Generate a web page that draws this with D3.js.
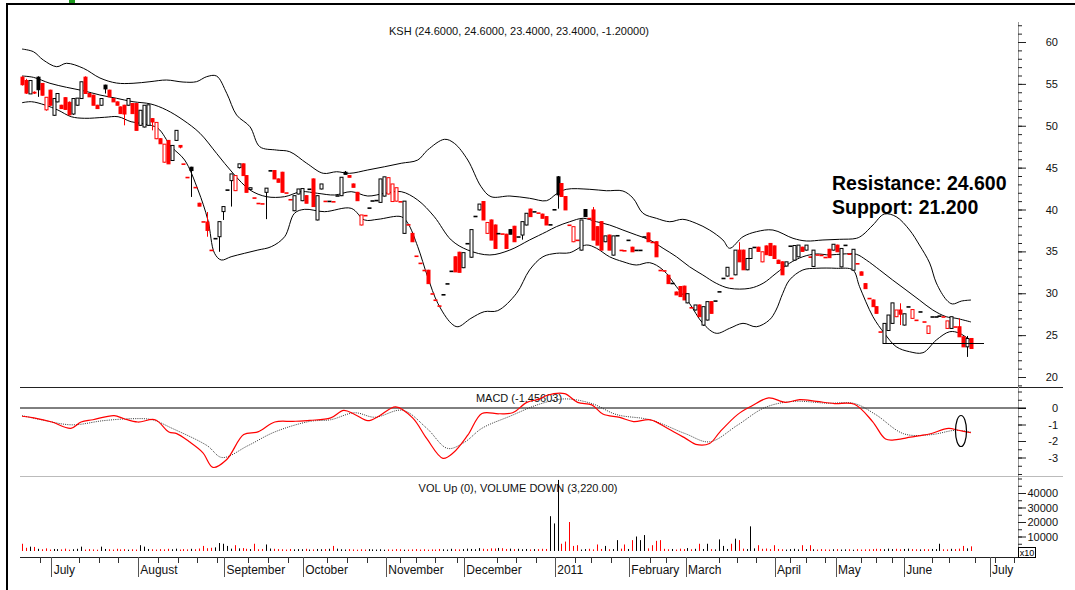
<!DOCTYPE html>
<html>
<head>
<meta charset="utf-8">
<script src="https://cdn.jsdelivr.net/npm/d3@7"></script>
<style>
  body { margin: 0; background: #fff; }
  svg text { font-family: "Liberation Sans", Arial, sans-serif; }
</style>
</head>
<body>
<script>
// Daily candles [open, high, low, close]
const ohlc = [
  [55.8,55.9,54.8,54.9],[55.4,55.6,53.8,53.9],[53.8,55.4,53.8,55.4],[54.0,54.1,53.8,53.9],[55.8,55.9,53.45,54.3],
  [55.05,55.1,53.6,53.65],[51.9,53.4,51.8,53.4],[54.25,54.3,52.4,52.45],[51.25,53.25,51.2,53.25],[52.85,53.85,52.8,53.85],
  [52.45,52.5,52.0,52.05],[53.35,53.4,51.9,51.95],[52.8,52.9,51.25,51.3],[51.4,53.25,51.3,53.25],[52.45,53.3,52.4,53.3],
  [53.25,55.25,53.2,55.25],[55.8,55.9,53.85,53.85],[53.85,53.9,53.45,53.45],[53.65,53.7,52.45,52.45],[52.45,52.5,52.0,52.05],
  [52.45,53.25,52.4,53.25],[54.85,54.9,53.85,54.4],[54.25,54.3,53.45,53.45],[53.25,53.3,52.85,52.85],[52.85,52.9,52.45,52.45],
  [52.25,52.3,51.45,51.45],[52.45,52.5,50.05,51.4],[52.45,53.25,52.4,53.25],[52.65,52.7,51.45,51.45],[52.65,52.7,49.45,49.45],
  [50.05,51.85,50.0,51.85],[49.85,52.45,49.8,52.45],[50.05,52.5,50.0,52.5],[50.85,50.9,49.45,50.45],[48.45,50.4,48.4,50.4],
  [48.45,48.5,47.85,47.85],[45.65,47.8,45.6,47.8],[48.25,48.3,45.45,45.45],[45.85,47.65,45.8,47.65],[48.25,49.45,48.2,49.45],
  [47.65,47.7,47.3,47.45],[45.45,45.45,45.45,45.45],[43.85,43.85,43.85,43.85],[45.05,45.1,41.5,44.65],[42.65,42.65,42.65,42.65],
  [40.75,40.8,40.4,40.4],[38.55,38.55,38.55,38.55],[38.5,39.7,36.75,37.5],[35.15,35.15,35.15,35.15],
  [36.55,36.55,36.55,36.55],[36.75,38.55,34.95,38.55],[39.75,40.35,38.75,40.35],[42.35,42.35,42.35,42.35],[43.45,44.25,40.35,44.25],
  [42.25,44.05,42.2,44.05],[45.0,45.45,44.9,45.45],[45.45,45.5,44.05,44.05],[44.05,44.1,42.05,42.05],[42.4,42.6,42.35,42.6],
  [41.4,41.4,41.4,41.4],
  [40.75,40.75,40.75,40.75],[40.7,40.7,40.7,40.7],[42.05,42.55,38.85,42.55],[44.65,44.65,44.65,44.65],[44.65,44.7,43.65,43.65],
  [43.65,43.7,43.25,43.25],[44.45,44.5,42.05,42.05],[42.0,42.0,42.0,42.0],[41.2,41.2,41.2,41.2],[39.85,41.65,39.8,41.65],
  [41.85,42.45,41.8,42.45],
  [41.05,42.5,41.0,42.5],[41.65,41.7,40.75,40.75],[42.45,42.45,42.45,42.45],[43.65,43.7,40.35,40.35],[38.75,41.65,38.7,41.65],
  [42.45,43.05,42.4,43.05],[41.0,41.0,41.0,41.0],[41.0,41.0,41.0,41.0],[40.95,40.95,40.95,40.95],[41.65,41.65,41.65,41.65],
  [41.65,43.85,41.6,43.85],
  [44.45,44.6,44.2,44.2],[44.05,44.1,43.85,43.85],[43.05,43.1,42.65,42.65],[42.05,42.1,41.05,41.05],[38.15,39.35,38.1,39.35],
  [39.3,39.3,39.3,39.3],[40.2,40.2,40.2,40.2],[41.05,41.05,41.05,41.05],[41.1,41.1,41.1,41.1],[40.85,43.65,40.8,43.65],
  [41.6,43.9,41.55,43.9],
  [41.85,43.8,41.8,43.8],[40.95,43.05,40.9,43.05],[41.0,42.6,40.95,42.6],[40.95,40.95,40.95,40.95],[37.15,41.0,37.1,41.0],
  [38.2,38.2,38.2,38.2],[37.15,37.2,36.15,36.15],[34.45,34.45,34.45,34.45],[33.6,33.6,33.6,33.6],[32.75,32.75,32.75,32.75],
  [32.75,32.8,31.15,31.15],[29.95,29.95,29.95,29.95],[29.2,29.2,29.2,29.2],[28.5,28.5,28.5,28.5],[29.85,29.85,29.85,29.85],
  [31.15,31.15,31.15,31.15],[32.65,32.65,32.65,32.65],[34.35,34.4,32.55,32.55],[34.9,34.95,32.5,32.5],[33.05,34.85,33.0,34.85],
  [35.95,35.95,35.95,35.95],[34.3,37.6,34.25,37.6],[39.2,39.2,39.2,39.2],[39.95,40.65,39.9,40.65],[40.95,41.0,38.75,38.75],
  [37.15,38.45,37.1,38.45],[38.75,38.8,36.35,36.35],[38.15,38.2,35.35,35.35],[37.15,37.15,37.15,37.15],[37.1,37.1,37.1,37.1],
  [37.05,37.1,35.35,35.35],[37.6,37.65,37.05,37.05],[38.0,38.05,36.15,36.15],[36.75,36.75,36.75,36.75],[36.95,38.55,36.4,38.55],
  [38.15,39.55,38.1,39.55],[40.05,40.1,39.15,39.15],[39.75,39.75,39.75,39.75],[39.6,39.6,39.6,39.6],[39.45,39.5,38.95,38.95],
  [39.15,39.2,38.15,38.15],[38.2,38.2,38.2,38.2],[40.0,40.0,40.0,40.0],[43.9,44.0,40.1,41.75],[43.1,43.15,41.5,41.55],
  [41.55,41.6,39.95,39.95],[38.15,38.15,38.15,38.15],[36.15,37.95,36.1,37.95],[36.35,36.35,36.35,36.35],[35.15,38.75,35.1,38.75],
  [40.0,40.05,39.15,39.15],[38.95,38.95,38.95,38.95],[39.95,40.3,36.35,36.35],[37.95,38.0,35.75,35.75],[38.55,38.6,35.15,35.15],
  [36.15,36.85,36.1,36.85],[36.95,37.0,35.15,35.15],[34.55,36.85,34.5,36.85],[36.9,36.9,36.9,36.9],[35.15,35.15,35.15,35.15],
  [35.1,35.1,35.1,35.1],[36.35,36.35,36.35,36.35],[35.5,35.55,34.95,34.95],[35.15,35.15,35.15,35.15],
  [35.15,35.15,35.15,35.15],[36.75,36.75,36.75,36.75],[37.2,37.25,36.15,36.15],[36.1,36.1,36.1,36.1],[36.15,36.2,34.35,34.35],
  [32.75,32.75,32.75,32.75],[32.7,32.7,32.7,32.7],[32.15,32.2,31.15,31.15],[31.2,31.2,31.2,31.2],[30.15,30.2,29.8,29.8],
  [30.8,30.85,29.6,29.6],[30.85,30.9,29.2,29.2],[28.85,29.95,28.8,29.95],[28.3,28.3,28.3,28.3],[28.0,28.6,27.95,28.6],
  [28.6,28.65,27.2,27.2],[26.2,28.4,26.1,28.4],[26.8,29.0,26.75,29.0],[29.0,29.05,27.6,27.6],[29.1,29.1,29.1,29.1],
  [30.2,30.2,30.2,30.2],[31.8,31.8,31.8,31.8],[32.05,33.1,32.0,33.1],[31.8,31.8,31.8,31.8],
  [32.2,35.15,32.15,35.15],[35.15,36.1,33.75,33.75],[35.15,35.2,32.8,32.8],[32.8,34.15,32.75,34.15],[34.15,35.35,34.1,35.35],
  [35.5,35.5,35.5,35.5],[35.5,35.55,35.0,35.0],[33.75,34.95,33.7,34.95],[35.65,35.7,34.6,34.6],[35.95,36.0,34.5,34.5],
  [35.65,35.7,34.15,34.15],[33.95,34.0,33.55,33.55],[33.75,33.8,32.2,32.2],[33.25,33.75,33.2,33.75],[35.65,35.65,35.65,35.65],
  [33.95,35.7,33.9,35.7],[34.35,35.75,34.3,35.75],[35.5,35.55,35.0,35.0],[35.15,35.75,35.1,35.75],[34.35,34.35,34.35,34.35],
  [33.2,35.15,33.15,35.15],[34.6,34.6,34.6,34.6],[34.55,34.55,34.55,34.55],[34.3,34.3,34.3,34.3],[35.25,35.3,34.25,34.25],
  [35.15,35.85,35.1,35.85],[35.75,35.8,34.95,34.95],[33.15,35.35,33.1,35.35],[35.75,35.75,35.75,35.75],[34.7,34.7,34.7,34.7],
  [32.75,35.25,32.7,35.25],[33.55,33.55,33.55,33.55],[32.55,32.6,32.15,32.15],[31.15,31.2,30.55,30.55],[29.4,29.4,29.4,29.4],
  [29.2,29.25,28.4,28.4],[28.4,28.45,27.6,27.6],[25.4,25.4,25.4,25.4],[24.0,26.4,24.0,26.4],[25.55,27.4,25.5,27.4],
  [26.4,28.85,26.35,28.85],[27.2,28.0,27.15,28.0],[28.0,28.8,26.2,27.5],[26.2,27.55,26.15,27.55],[28.4,28.4,28.4,28.4],
  [27.0,28.05,26.95,28.05],[26.8,26.8,26.8,26.8],[27.8,27.8,27.8,27.8],[26.6,26.6,26.6,26.6],[25.2,26.1,25.15,26.1],
  [27.2,27.2,27.2,27.2],[27.2,27.2,27.2,27.2],[27.3,27.3,27.3,27.3],[27.2,27.2,27.2,27.2],
  [25.8,26.7,25.75,26.7],[25.8,27.2,25.75,27.2],[26.0,26.0,26.0,26.0],[26.0,27.0,24.8,24.8],[24.8,24.85,23.6,23.6],
  [23.6,24.9,22.4,24.6],[24.6,24.6,23.4,23.4]
];

// Daily volume (same order as candles)
const volume = [
  5000,2200,3000,2800,1500,1200,1800,1000,1400,1300,1100,1600,900,1200,1500,3000,1000,1300,1100,900,
  3000,1400,1200,1000,1500,1100,1300,900,1200,1000,4000,3000,1400,1200,1000,1300,1100,1500,1200,1600,
  1000,1300,1100,1500,1200,1700,3500,1900,2200,2500,5500,5000,3500,1600,4000,1800,2000,1500,1300,5000,
  1200,1400,4500,1700,1500,1300,1200,1000,1400,1100,1300,1200,1500,1000,1100,1400,1200,1300,1500,3500,
  1600,1200,1000,1300,1100,900,1200,1000,1300,1100,1000,1200,900,1100,1000,1300,1200,900,1000,1100,
  1300,1000,1200,900,1100,1000,1400,1200,1000,1500,1200,1100,1300,1600,1400,1200,2000,1500,1300,1800,
  1700,2100,1900,1400,1600,1300,1500,1200,1400,1100,1300,1300,1500,1400,24000,19000,49000,5000,6500,20000,
  3500,4000,1000,1300,1500,1100,4500,1400,3500,1200,1300,7500,1600,4500,1400,7500,10000,7500,11000,1800,
  4000,7000,7500,1500,1200,1400,1000,1600,1300,2000,1200,1500,5000,1400,5000,1300,1100,8000,3500,1400,
  5000,8500,7500,1600,1300,17000,1800,4000,1500,1700,1300,4000,1400,1200,1000,1300,1500,1100,4000,1300,
  4000,1200,1000,1300,1100,1000,1200,1300,1000,1100,1200,900,1300,1000,1100,1200,1300,1500,1400,1200,
  1600,1300,1500,1200,1400,1600,1300,1200,1100,1300,1200,1400,1300,5000,1200,1100,1500,1300,1600,3500,1800,3220
];

// Bollinger bands, read at [day index, price]
const upperBand = [[0,59.16],[2.9,58.84],[5.4,57.85],[8.8,57.05],[11.3,57.46],[15.6,56.86],[19.8,55.7],[24,55.1],[28.2,55.07],
  [32.5,55.26],[36.7,55.46],[40.9,55.22],[44.3,55.26],[46.9,55.86],[49.4,55.94],[52,53.87],[54.5,51.28],[57.9,49.88],[60.4,47.49],
  [64.6,47.1],[68,46.9],[72.3,45.52],[76.5,44.32],[79.9,44.51],[83.2,44.32],[87.8,44.72],[92.1,45.11],[96.3,45.52],[100.5,45.91],
  [103,47.1],[107.3,48.38],[109.8,47.9],[113.2,45.91],[116.6,42.72],[119.1,41.53],[123.9,41.61],[128.9,41.34],[133.2,41.05],
  [135.7,41.85],[138.2,42.41],[144.2,42.41],[148.4,42.24],[152.6,42.21],[155.2,41.34],[157.7,39.55],[161.1,38.95],[164.5,38.54],
  [167.8,38.83],[171.2,38.35],[174.6,37.55],[178,36.36],[179.7,35.37],[183.1,36.75],[186.5,37.35],[190.7,37.55],[195.8,36.56],
  [199.2,36.24],[203.4,36.36],[207.6,36.44],[211.9,36.56],[213.5,36.96],[216.1,38.15],[219,39.46],[222,39.14],[225.4,37.55],
  [227.9,35.76],[230.5,33.61],[232.2,31.22],[234.8,29.19],[236.3,28.72],[238.6,29.07],[241,29.19]];
const midBand = [[0,55.94],[2.9,55.78],[7.1,55.07],[11.3,54.59],[15.6,54.18],[19.8,53.67],[24,53.28],[28.2,52.87],[32.7,52.6],
  [36.7,51.88],[40.9,50.69],[45.2,49.1],[49.4,46.71],[53.6,44.32],[57.9,42.33],[62.1,41.53],[66.7,41.53],[70.9,42.13],[75.1,41.93],
  [79.4,41.73],[83.6,42.13],[87.8,41.61],[92.1,41.93],[96.3,42.13],[100.5,41.13],[104.7,39.14],[109,36.36],[113.2,35.16],
  [118.8,34.57],[123.9,35.16],[128.9,36.36],[133.2,37.35],[135.7,37.95],[139.1,38.54],[142.5,38.95],[145.9,38.54],[149.2,38.15],
  [152.6,37.55],[156,36.96],[159.4,36.36],[162.8,35.37],[166.2,34.36],[169.5,33.17],[172.9,32.18],[176.3,31.19],[179.7,30.59],
  [184.8,30.59],[188.2,31.19],[191.5,32.38],[194.9,33.58],[198.3,34.36],[201.7,34.69],[205.1,34.57],[208.5,34.69],[211.9,34.65],
  [214.4,33.97],[217.8,32.78],[221.1,31.58],[224.5,30.39],[227.9,29.19],[231.3,28],[234.7,27.2],[237.2,27.01],[241,26.57]];
const lowerBand = [[0,52.75],[2.4,52.87],[5.8,52.48],[9.1,51.88],[12.5,51.08],[15.9,50.89],[21,51.01],[24.4,51.08],[27.7,50.48],
  [31.1,50.21],[34.5,49.7],[37.9,47.5],[41.3,45.91],[44.7,42.33],[47.2,38.75],[48.9,34.77],[50.6,33.97],[53.1,34.36],[56.5,34.77],
  [59.9,35.16],[63.3,35.56],[66.7,36.75],[69.2,39.55],[71.8,40.02],[76.8,39.74],[83.6,40.14],[87,38.75],[90.4,38.83],[96.3,39.14],
  [98,38.35],[100.5,35.56],[103,31.98],[105.6,28.8],[109,26.41],[110.7,26],[114,27],[117.4,27.8],[120.8,27.92],[125.6,30],
  [128.9,32.78],[132.3,34.36],[135.7,34.77],[139.1,34.84],[143.3,35.76],[145.9,35.37],[149.2,34.36],[152.6,33.77],[156,33.37],
  [159.4,33.65],[162.8,32.78],[166.2,30.78],[169.5,28.8],[172.9,26.41],[176.3,25.22],[179.7,25.81],[183.1,26.41],[186.5,26],
  [189.8,26.81],[191.5,28],[193.2,29.99],[194.9,31.58],[198.3,32.78],[201.7,32.98],[206.8,32.98],[211,32.78],[212.7,30.78],
  [216.1,27.2],[219,25.22],[222,23.62],[225.4,23.02],[228.8,22.9],[232.2,24.42],[235.6,25.41],[238.1,25.22],[241,24.3]];

// MACD and its signal line, read at [day index, value]
const macdLine = [[0,-0.5],[3,-0.6],[7.6,-0.85],[12.4,-1.23],[15,-0.85],[18,-0.71],[23.4,-0.46],[25.9,-0.65],[29.4,-0.85],
  [33.8,-0.71],[37.3,-1.45],[39.3,-1.55],[42.4,-2.03],[45.9,-2.7],[48.5,-3.6],[52,-3.12],[56.3,-1.61],[59.9,-1.45],[64.2,-0.85],
  [68.8,-0.81],[73.1,-0.75],[78.4,-0.6],[81.7,-0.14],[84.5,-0.39],[87.8,-0.77],[90.6,-0.5],[94.9,0.07],[99.2,-0.6],[102.8,-1.86],
  [106.9,-3.05],[109.6,-2.7],[113.2,-1.65],[116.8,-0.33],[121.1,-0.35],[124.6,-0.29],[128.2,0.34],[131.5,0.55],[133.2,0.76],
  [137.8,0.87],[141.1,0.34],[144.7,0.19],[147.5,-0.36],[151.8,-0.57],[155.3,-0.82],[159.6,-0.72],[164,-1.24],[168.5,-1.84],
  [171.1,-2.2],[174.6,-2.15],[177.2,-1.46],[181.7,-0.4],[185.3,0.12],[189.6,0.61],[193.9,0.34],[197.5,0.51],[201.8,0.4],
  [206.3,0.27],[211.4,0.23],[216,-0.82],[219.3,-1.88],[222.1,-1.92],[225.6,-1.77],[228.2,-1.67],[230.7,-1.56],[235.3,-1.24],
  [237.8,-1.35],[241,-1.5]];
const signalLine = [[0,-0.46],[4.8,-0.71],[12.7,-1.02],[20.6,-0.77],[27.7,-0.65],[33,-0.71],[38.1,-1.23],[47,-2.28],[50.8,-3.0],
  [57.4,-2.28],[64.2,-1.45],[73.1,-0.81],[78.4,-0.71],[84.5,-0.29],[89.6,-0.56],[96.7,-0.14],[102.8,-1.23],[108.1,-2.45],
  [112.4,-2.07],[116.8,-1.23],[123.9,-0.5],[131.5,0.24],[137.8,0.55],[144.7,0.27],[151,-0.4],[159.6,-0.72],[168.5,-1.56],
  [174.6,-2.05],[181.7,-1.04],[188.6,0.02],[195.7,0.4],[204.6,0.29],[211.4,0.27],[216.8,-0.4],[223.9,-1.56],[230.7,-1.62],
  [237.1,-1.35],[241,-1.46]];

// Axis labels
const months = [["July",7.4],["August",29.4],["September",51.3],["October",71.3],["November",92.4],["December",112.2],
  ["2011",135.3],["February",154.1],["March",168.5],["April",191.1],["May",206.6],["June",223.9],["July",245.7]];
const weekTicks = [4.6,14.5,19.5,24.5,34.5,39.5,44.5,49.5,57.5,62.5,67.5,77.5,82.5,87.5,96,100,105,110.5,120.5,125.5,130.5,
  140.5,144.5,149.5,159.5,163.5,177,181.5,186.5,195,199,204,213,217,221,231,235.5,242,247,252];
const priceTicks = [20,25,30,35,40,45,50,55,60];
const macdTicks = [0,-1,-2,-3];
const volTicks = [10000,20000,30000,40000];

const title = "KSH (24.6000, 24.6000, 23.4000, 23.4000, -1.20000)";
const macdTitle = "MACD (-1.45603)";
const volTitle = "VOL Up (0), VOLUME DOWN (3,220.00)";
const notes = ["Resistance: 24.600", "Support: 21.200"];
const supportLevel = 24.0, supportFrom = 219, supportTo = 244.3;

// ---------------------------------------------------------------
const width = 1075, height = 590;
const left = 20, axisX = 1018;
const red = "#ff0000";

const svg = d3.select("body").append("svg")
  .attr("width", width)
  .attr("height", height);

const x = d3.scaleLinear().domain([0, ohlc.length - 1]).range([22, 971]);
const yPrice = d3.scaleLinear().domain([20, 60]).range([377, 42]);
const yMacd = d3.scaleLinear().domain([-3, 0]).range([457.5, 408]);
const yVol = d3.scaleLinear().domain([0, 40000]).range([551, 493]);

// outer frame
svg.append("rect").attr("x", 6).attr("y", 3).attr("width", width - 6).attr("height", 2).attr("fill", "#000");
svg.append("rect").attr("x", 6).attr("y", 3).attr("width", 2).attr("height", height - 3).attr("fill", "#000");
svg.append("rect").attr("x", 69).attr("y", 0).attr("width", 6).attr("height", 3).attr("fill", "#1e9a1e");

// panel separators
svg.append("line").attr("x1", left).attr("x2", 1063).attr("y1", 387.5).attr("y2", 387.5)
  .attr("stroke", "#222").attr("stroke-width", 1);
svg.append("line").attr("x1", left).attr("x2", 1063).attr("y1", 476.5).attr("y2", 476.5)
  .attr("stroke", "#bbb").attr("stroke-width", 1);

// right axis line
svg.append("line").attr("x1", axisX + 0.5).attr("x2", axisX + 0.5).attr("y1", 22).attr("y2", 557)
  .attr("stroke", "#999");

function rightAxis(scale, major, minor, fmt) {
  const g = svg.append("g").attr("transform", `translate(${axisX},0)`);
  g.append("g").call(d3.axisRight(scale).tickValues(minor).tickSize(4).tickFormat(""))
    .call(a => a.select(".domain").remove());
  g.append("g").call(d3.axisRight(scale).tickValues(major).tickSize(8).tickFormat(fmt))
    .call(a => a.select(".domain").remove())
    .call(a => a.selectAll("text").attr("x", 40).attr("text-anchor", "end")
      .style("font-size", "11px").attr("fill", "#111"));
  g.selectAll("line").attr("stroke", "#222");
}
rightAxis(yPrice, priceTicks, d3.range(19, 63), d => String(d));
rightAxis(yMacd, macdTicks, d3.range(-4, 1.01, 0.5), d => String(d));
rightAxis(yVol, volTicks, d3.range(5000, 50001, 5000), d => String(d));

// x10 box
svg.append("rect").attr("x", 1018.5).attr("y", 547.5).attr("width", 17).attr("height", 10)
  .attr("fill", "#fff").attr("stroke", "#000");
svg.append("text").attr("x", 1027).attr("y", 555.5).attr("text-anchor", "middle")
  .style("font-size", "9px").text("x10");

// titles
svg.append("text").attr("x", 519).attr("y", 35).attr("text-anchor", "middle")
  .style("font-size", "11px").attr("fill", "#111").text(title);
svg.append("text").attr("x", 519).attr("y", 402).attr("text-anchor", "middle")
  .style("font-size", "11px").attr("fill", "#111").text(macdTitle);
svg.append("text").attr("x", 518).attr("y", 492).attr("text-anchor", "middle")
  .style("font-size", "11px").attr("fill", "#111").text(volTitle);

// Bollinger bands
const bandLine = d3.line().x(d => x(d[0])).y(d => yPrice(d[1])).curve(d3.curveCatmullRom);
[upperBand, midBand, lowerBand].forEach(b => {
  svg.append("path").attr("d", bandLine(b)).attr("fill", "none").attr("stroke", "#000").attr("stroke-width", 1);
});

// candles
const isDown = (d, i) => i === 0 ? d[3] < d[0] : d[3] < ohlc[i - 1][3];
const candle = svg.append("g").selectAll("g").data(ohlc).enter().append("g");
candle.filter(d => d[1] > Math.max(d[0], d[3]) || d[2] < Math.min(d[0], d[3]))
  .append("line")
  .attr("x1", d => Math.round(x(ohlc.indexOf(d))) + 0.5)
  .attr("x2", d => Math.round(x(ohlc.indexOf(d))) + 0.5)
  .attr("y1", d => yPrice(d[1]))
  .attr("y2", d => yPrice(d[2]))
  .attr("stroke", d => isDown(d, ohlc.indexOf(d)) ? red : "#000");
candle.append("rect")
  .attr("x", (d, i) => Math.round(x(i)) - 1)
  .attr("y", d => yPrice(Math.max(d[0], d[3])))
  .attr("width", 3)
  .attr("height", d => Math.max(0.6, yPrice(Math.min(d[0], d[3])) - yPrice(Math.max(d[0], d[3]))))
  .attr("fill", (d, i) => d[3] < d[0] ? (isDown(d, i) ? red : "#000") : "#fff")
  .attr("stroke", (d, i) => isDown(d, i) ? red : "#000")
  .attr("stroke-width", 1);

// support line
svg.append("line")
  .attr("x1", x(supportFrom)).attr("x2", x(supportTo))
  .attr("y1", yPrice(supportLevel)).attr("y2", yPrice(supportLevel))
  .attr("stroke", "#000").attr("stroke-width", 1.2);

// notes
notes.forEach((t, k) => {
  svg.append("text").attr("x", 832).attr("y", 189.5 + k * 24)
    .style("font-size", "19.5px").style("font-weight", "bold").attr("fill", "#000").text(t);
});

// MACD panel
svg.append("line").attr("x1", left).attr("x2", axisX + 8).attr("y1", yMacd(0)).attr("y2", yMacd(0))
  .attr("stroke", "#000");
const macdPath = d3.line().x(d => x(d[0])).y(d => yMacd(d[1])).curve(d3.curveCatmullRom);
svg.append("path").attr("d", macdPath(signalLine)).attr("fill", "none")
  .attr("stroke", "#333").attr("stroke-width", 1).attr("stroke-dasharray", "1,1.2");
svg.append("path").attr("d", macdPath(macdLine)).attr("fill", "none")
  .attr("stroke", red).attr("stroke-width", 1.2);
svg.append("ellipse").attr("cx", 961).attr("cy", 431).attr("rx", 5.5).attr("ry", 15.5)
  .attr("fill", "none").attr("stroke", "#000").attr("stroke-width", 1.2);

// volume bars
svg.append("g").selectAll("line").data(volume).enter().append("line")
  .attr("x1", (d, i) => Math.round(x(i)) + 0.5)
  .attr("x2", (d, i) => Math.round(x(i)) + 0.5)
  .attr("y1", yVol(0))
  .attr("y2", d => yVol(d))
  .attr("stroke", (d, i) => isDown(ohlc[i], i) ? red : "#000")
  .attr("stroke-width", 1);

// time axis
const xa = svg.append("g");
xa.append("line").attr("x1", left).attr("x2", axisX).attr("y1", 557.5).attr("y2", 557.5).attr("stroke", "#222");
xa.selectAll(".wk").data(weekTicks).enter().append("line")
  .attr("x1", d => Math.round(x(d)) + 0.5).attr("x2", d => Math.round(x(d)) + 0.5)
  .attr("y1", 557).attr("y2", 563).attr("stroke", "#333");
xa.selectAll(".mo").data(months).enter().append("line")
  .attr("x1", d => Math.round(x(d[1])) + 0.5).attr("x2", d => Math.round(x(d[1])) + 0.5)
  .attr("y1", 557).attr("y2", 577).attr("stroke", "#555");
xa.selectAll("text").data(months).enter().append("text")
  .attr("x", d => x(d[1]) + 2.5).attr("y", 574)
  .style("font-size", "12px").attr("fill", "#111").text(d => d[0]);
</script>
</body>
</html>
